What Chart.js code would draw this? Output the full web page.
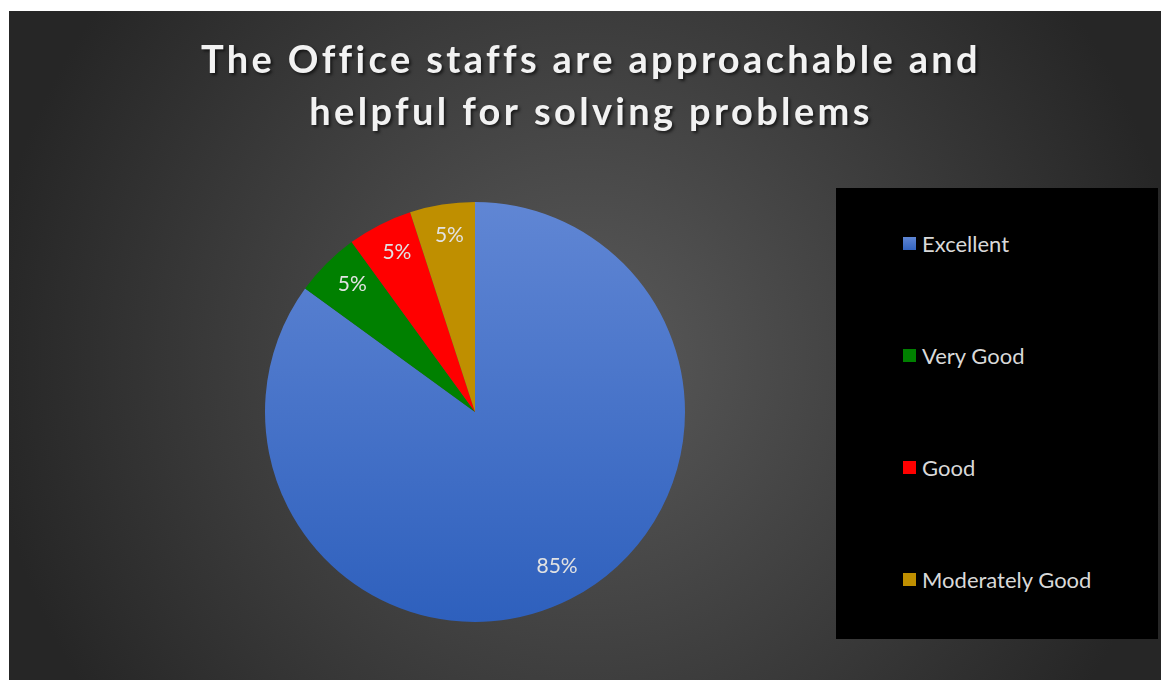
<!DOCTYPE html>
<html>
<head>
<meta charset="utf-8">
<script src="https://cdn.jsdelivr.net/npm/chart.js@4/dist/chart.umd.min.js"></script>
<style>
  html, body { margin: 0; padding: 0; background: #fff; }
  #wrap {
    position: absolute; left: 9px; top: 11px; width: 1152px; height: 669px;
    background: radial-gradient(circle at 50% 52%, #5a5a5a 0px, #262626 600px);
  }
  #myChart { position: absolute; left: 0; top: 0; }
  #legend {
    position: absolute; left: 827px; top: 177px; width: 322px; height: 451px;
    background: #000; margin: 0; padding: 0 0 4px 67px; box-sizing: border-box;
    list-style: none; display: flex; flex-direction: column; justify-content: space-around;
    font-family: Lato, sans-serif; font-size: 22px; color: #d9d9d9;
  }
  #legend li { display: flex; align-items: center; height: 26px; }
  #legend span { display: inline-block; width: 13px; height: 13px; margin-right: 6px; }
</style>
</head>
<body>
<div id="wrap">
  <canvas id="myChart" width="1152" height="669"></canvas>
  <ul id="legend"></ul>
</div>
<script>
var titleLines = ['The Office staffs are approachable and', 'helpful for solving problems'];
var categories = ['Excellent', 'Very Good', 'Good', 'Moderately Good'];
var shares = [85, 5, 5, 5];

// slice fills; the first one is drawn as a vertical gradient
var sliceColors = ['#4472c4', '#008000', '#ff0000', '#bf8f00'];
var swatchCss = ['linear-gradient(#5f86d4, #3264c0)', '#008000', '#ff0000', '#bf8f00'];

Chart.defaults.font.family = 'Lato';

function sliceFill(context) {
    var i = context.dataIndex;
    var area = context.chart.chartArea;
    if (i !== 0 || !area) return sliceColors[i];
    var g = context.chart.ctx.createLinearGradient(0, area.top, 0, area.bottom);
    g.addColorStop(0, '#6086d4');
    g.addColorStop(1, '#2e60bd');
    return g;
}

// percent labels placed near the rim of each slice
var sliceLabels = {
    id: 'sliceLabels',
    afterDatasetsDraw: function(chart) {
        var ctx = chart.ctx;
        var meta = chart.getDatasetMeta(0);
        ctx.save();
        ctx.font = '21px Lato';
        ctx.fillStyle = '#e2e2e2';
        ctx.textAlign = 'center';
        ctx.textBaseline = 'middle';
        meta.data.forEach(function(arc, i) {
            var mid = (arc.startAngle + arc.endAngle) / 2;
            var r = arc.outerRadius * 0.84;
            ctx.fillText(shares[i] + '%', arc.x + Math.cos(mid) * r + 2, arc.y + Math.sin(mid) * r - 3);
        });
        ctx.restore();
    }
};

// two-line heading with spacing and drop shadow
var heading = {
    id: 'heading',
    afterDraw: function(chart) {
        var ctx = chart.ctx;
        ctx.save();
        ctx.font = 'bold 38px Lato';
        ctx.letterSpacing = '3.35px';
        ctx.textAlign = 'center';
        ctx.textBaseline = 'middle';
        ctx.fillStyle = '#f2f2f2';
        ctx.shadowColor = 'rgba(0,0,0,0.6)';
        ctx.shadowOffsetX = 2;
        ctx.shadowOffsetY = 2;
        ctx.shadowBlur = 3;
        titleLines.forEach(function(line, i) {
            ctx.fillText(line, 582, 50 + i * 52);
        });
        ctx.restore();
    }
};

var ctx = document.getElementById('myChart').getContext('2d');
var myChart = new Chart(ctx, {
    type: 'pie',
    data: {
        labels: categories,
        datasets: [{
            data: shares,
            backgroundColor: sliceFill,
            borderWidth: 0
        }]
    },
    options: {
        responsive: false,
        animation: false,
        layout: { padding: { left: 256, right: 476, top: 191, bottom: 58 } },
        plugins: {
            legend: { display: false },
            tooltip: { enabled: false }
        }
    },
    plugins: [sliceLabels, heading]
});

// legend list built from the chart's own legend items
var items = Chart.overrides.pie.plugins.legend.labels.generateLabels(myChart);
var ul = document.getElementById('legend');
items.forEach(function(item) {
    var li = document.createElement('li');
    var box = document.createElement('span');
    box.style.background = swatchCss[item.index];
    li.appendChild(box);
    li.appendChild(document.createTextNode(item.text));
    ul.appendChild(li);
});
</script>
</body>
</html>
